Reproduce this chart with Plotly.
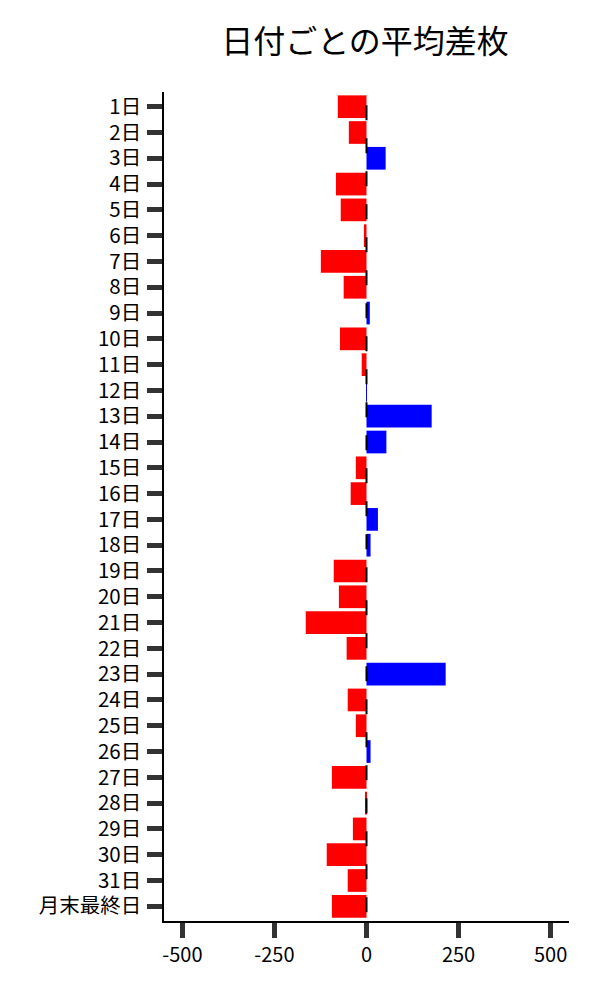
import plotly.graph_objects as go

days = [f"{i}日" for i in range(1, 32)] + ["月末最終日"]
avg_diff = [-78, -48, 52, -83, -70, -7, -124, -62, 9, -72, -13, 1, 177, 54, -29, -43,
            31, 11, -89, -75, -165, -54, 215, -51, -29, 11, -94, -2, -37, -108, -51, -94]
x_ticks = [-500, -250, 0, 250, 500]
title_text = "日付ごとの平均差枚"

FONT = "Noto Sans CJK JP"
colors = ["#0000ff" if v > 0 else "#ff0000" for v in avg_diff]

fig = go.Figure(go.Bar(
    x=avg_diff, y=days, orientation="h",
    marker=dict(color=colors, line=dict(width=0)),
))

fig.add_shape(type="line", xref="x", yref="paper", x0=0, x1=0, y0=0.984, y1=0,
              line=dict(color="black", width=2, dash="15px,18px"), layer="above")

fig.update_layout(
    width=600, height=1000,
    margin=dict(l=156, r=39, t=84, b=87),
    paper_bgcolor="white", plot_bgcolor="white",
    font=dict(family=FONT, size=20, color="black"),
    title=dict(text=title_text, x=357 / 600, xref="container", xanchor="center",
               y=1 - 34 / 1000, yanchor="middle", font=dict(size=32, family=FONT)),
    bargap=0.12,
    showlegend=False,
)
fig.update_xaxes(range=[-550, 550], tickvals=x_ticks, ticktext=[str(v) for v in x_ticks],
                 showgrid=False, zeroline=False, showline=True, linecolor="black", linewidth=1.5,
                 ticks="outside", ticklen=15, tickwidth=5, tickcolor="#333333",
                 tickfont=dict(size=20, family=FONT))
fig.update_yaxes(type="category", categoryorder="array", categoryarray=days,
                 range=[len(days) - 1 + 0.57, -0.57],
                 showgrid=False, zeroline=False, showline=True, linecolor="black", linewidth=1.5,
                 ticks="outside", ticklen=15, tickwidth=5, tickcolor="#333333",
                 ticklabelstandoff=2, tickfont=dict(size=20.5, family=FONT))

fig.write_html("out.html")
